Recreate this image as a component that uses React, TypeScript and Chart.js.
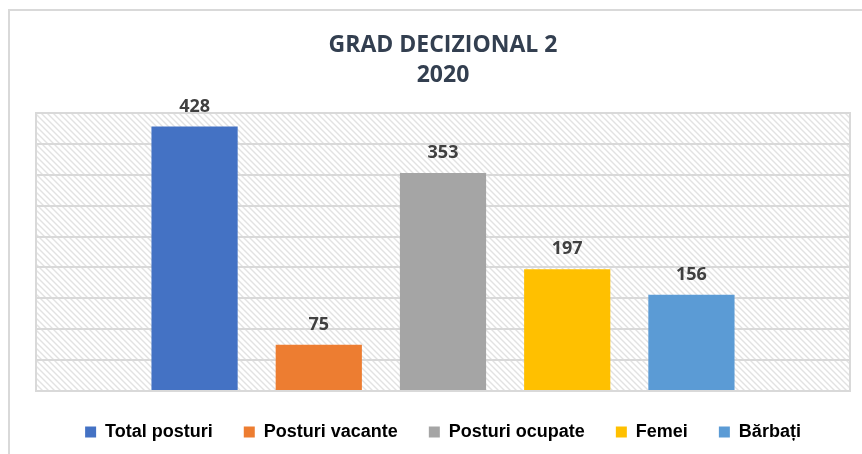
import React, { useEffect, useRef } from "react";
import { Chart, registerables } from "chart.js";

Chart.register(...registerables);

const categories: string[] = [""];
const seriesNames: string[] = ["Total posturi", "Posturi vacante", "Posturi ocupate", "Femei", "Bărbați"];
const seriesValues: number[] = [428, 75, 353, 197, 156];
const seriesColors: string[] = ["#4472C4", "#ED7D31", "#A5A5A5", "#FFC000", "#5B9BD5"];
const titleLines: string[] = ["GRAD DECIZIONAL 2", "2020"];
const yMax = 450;
const yStep = 50;

function makeHatch(): CanvasPattern | string {
  const s = 6;
  const c = document.createElement("canvas");
  c.width = s;
  c.height = s;
  const g = c.getContext("2d");
  if (!g) return "#ffffff";
  g.fillStyle = "#ffffff";
  g.fillRect(0, 0, s, s);
  g.strokeStyle = "#e2e2e2";
  g.lineWidth = 1.4;
  g.beginPath();
  g.moveTo(-1, -1);
  g.lineTo(s + 1, s + 1);
  g.moveTo(-1, s - 1);
  g.lineTo(1, s + 1);
  g.moveTo(s - 1, -1);
  g.lineTo(s + 1, 1);
  g.stroke();
  const p = g.createPattern(c, "repeat");
  return p || "#ffffff";
}

const framePlugin = {
  id: "framePlugin",
  beforeDraw(chart: any) {
    const ctx = chart.ctx;
    const a = chart.chartArea;
    ctx.save();
    ctx.fillStyle = "#ffffff";
    ctx.fillRect(0, 0, chart.width, chart.height);
    ctx.strokeStyle = "#d9d9d9";
    ctx.lineWidth = 2;
    ctx.beginPath();
    ctx.moveTo(9, chart.height);
    ctx.lineTo(9, 10);
    ctx.lineTo(chart.width, 10);
    ctx.stroke();
    ctx.fillStyle = makeHatch();
    ctx.fillRect(a.left, a.top, a.right - a.left, a.bottom - a.top);
    ctx.strokeStyle = "#d9d9d9";
    ctx.lineWidth = 2;
    ctx.strokeRect(a.left, a.top, a.right - a.left, a.bottom - a.top);
    ctx.restore();
  },
};

const labelPlugin = {
  id: "labelPlugin",
  afterDatasetsDraw(chart: any) {
    const ctx = chart.ctx;
    ctx.save();
    ctx.font = "bold 18px 'Open Sans'";
    ctx.fillStyle = "#404040";
    ctx.textAlign = "center";
    ctx.textBaseline = "alphabetic";
    chart.data.datasets.forEach((ds: any, i: number) => {
      const meta = chart.getDatasetMeta(i);
      meta.data.forEach((bar: any, j: number) => {
        ctx.fillText(String(ds.data[j]), bar.x, bar.y - 15);
      });
    });
    ctx.restore();
  },
};

export default function App() {
  const ref = useRef<HTMLCanvasElement>(null);
  useEffect(() => {
    document.body.style.margin = "0";
    if (!ref.current) return;
    const chart = new Chart(ref.current, {
      type: "bar",
      data: {
        labels: categories,
        datasets: seriesNames.map((name, i) => ({
          label: name,
          data: [seriesValues[i]],
          backgroundColor: seriesColors[i],
          borderWidth: 0,
          categoryPercentage: 0.763,
          barPercentage: 0.694,
        })),
      },
      options: {
        responsive: false,
        animation: false,
        layout: { padding: { left: 36, right: 12, top: 0, bottom: 3 } },
        scales: {
          x: {
            display: true,
            grid: { display: false },
            border: { display: false },
            ticks: { display: false },
            afterFit: (s: any) => {
              s.height = 1;
            },
          },
          y: {
            min: 0,
            max: yMax,
            ticks: { display: false, stepSize: yStep },
            grid: { color: "#d9d9d9", lineWidth: 2, drawTicks: false },
            border: { display: false },
            afterFit: (s: any) => {
              s.width = 0;
            },
          },
        },
        plugins: {
          title: {
            display: true,
            text: titleLines,
            color: "#333F50",
            font: { family: "'Open Sans'", size: 23, weight: "bold", lineHeight: "30px" },
            padding: { top: 30, bottom: 23 },
          },
          legend: {
            display: true,
            position: "bottom",
            labels: {
              boxWidth: 11,
              boxHeight: 11,
              padding: 31,
              color: "#000000",
              font: { family: "'Liberation Sans'", size: 18, weight: "bold" },
            },
          },
          tooltip: { enabled: false },
        },
      },
      plugins: [framePlugin, labelPlugin],
    });
    return () => chart.destroy();
  }, []);
  return (
    <div style={{ position: "fixed", left: 0, top: 0, width: 862, height: 454 }}>
      <canvas ref={ref} width={862} height={454} style={{ display: "block" }} />
    </div>
  );
}
